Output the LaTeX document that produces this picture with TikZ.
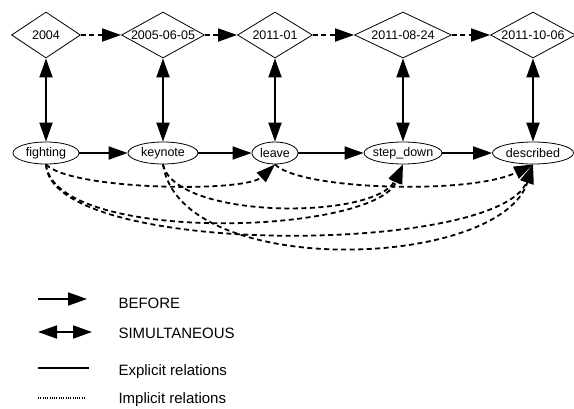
\documentclass[tikz,border=0pt]{standalone}
\usepackage{fontspec}
\setmainfont{Liberation Sans}
\usetikzlibrary{shapes.geometric, arrows.meta}

\begin{document}
\begin{tikzpicture}[
    x=1pt, y=-1pt,
    datebox/.style={diamond, draw=black, line width=0.8pt, minimum height=46pt, inner sep=0pt, font=\fontsize{12.5}{14}\selectfont},
    eventbox/.style={ellipse, draw=black, line width=0.8pt, minimum height=22pt, inner sep=0pt, font=\fontsize{12.5}{14}\selectfont},
    before/.style={-{Triangle[length=19pt, width=13pt]}, line width=1.8pt},
    simul/.style={{Triangle[length=19pt, width=13pt]}-{Triangle[length=19pt, width=13pt]}, line width=1.8pt},
    implicit/.style={dash pattern=on 5pt off 3.5pt},
    legend/.style={font=\fontsize{15}{18}\selectfont, anchor=base west}
]
\useasboundingbox (0,0) rectangle (574,408);

% Time expressions
\node[datebox, minimum width=69pt] (y2004) at (46, 35) {\makebox[0pt]{2004}};
\node[datebox, minimum width=83pt] (y2005) at (163, 35) {\makebox[0pt]{2005-06-05}};
\node[datebox, minimum width=75pt] (y2011a) at (275, 35) {\makebox[0pt]{2011-01}};
\node[datebox, minimum width=97pt] (y2011b) at (403, 35) {\makebox[0pt]{2011-08-24}};
\node[datebox, minimum width=85pt] (y2011c) at (533, 35) {\makebox[0pt]{2011-10-06}};

\draw[before, implicit] (y2004) -- (y2005);
\draw[before, implicit] (y2005) -- (y2011a);
\draw[before, implicit] (y2011a) -- (y2011b);
\draw[before, implicit] (y2011b) -- (y2011c);

% Events
\node[eventbox, minimum width=66pt] (fighting) at (46, 153) {\makebox[0pt]{fighting}};
\node[eventbox, minimum width=70pt] (keynote) at (163, 153) {\makebox[0pt]{keynote}};
\node[eventbox, minimum width=46pt] (leave) at (275, 153) {\makebox[0pt]{leave}};
\node[eventbox, minimum width=78pt] (stepdown) at (403, 153) {\makebox[0pt]{step\_down}};
\node[eventbox, minimum width=81pt] (described) at (533, 153) {\makebox[0pt]{described}};

\draw[simul] (y2004) -- (fighting);
\draw[simul] (y2005) -- (keynote);
\draw[simul] (y2011a) -- (leave);
\draw[simul] (y2011b) -- (stepdown);
\draw[simul] (y2011c) -- (described);

\draw[before] (fighting) -- (keynote);
\draw[before] (keynote) -- (leave);
\draw[before] (leave) -- (stepdown);
\draw[before] (stepdown) -- (described);

% Implicit relations
\draw[before, implicit] (fighting.south) .. controls (70,190) and (245,193) .. (leave.south);
\draw[before, implicit] (leave.south) .. controls (300,190) and (470,195) .. (described.south);
\draw[before, implicit] (keynote.south) .. controls (175,220) and (375,220) .. (stepdown.south);
\draw[before, implicit] (fighting.south) .. controls (55,245) and (375,235) .. (stepdown.south);
\draw[before, implicit] (fighting.south) .. controls (50,258) and (500,255) .. (described.south);
\draw[before, implicit] (keynote.south) .. controls (180,280) and (500,270) .. (described.south);

% Legend
\coordinate (lb1) at (38, 299);
\coordinate (lb2) at (87, 299);
\coordinate (ls1) at (38, 332);
\coordinate (ls2) at (92, 332);
\coordinate (le1) at (38, 368);
\coordinate (le2) at (89, 368);
\coordinate (li1) at (38, 398);
\coordinate (li2) at (86, 398);

\draw[before] (lb1) -- (lb2);
\draw[simul] (ls1) -- (ls2);
\draw[line width=1.8pt] (le1) -- (le2);
\draw[line width=1.3pt, dash pattern=on 1pt off 1.3pt] (li1) -- (li2);

\node[legend] (tbefore) at (115, 308) {BEFORE};
\node[legend] (tsimul) at (115, 338) {SIMULTANEOUS};
\node[legend] (texplicit) at (115, 375) {Explicit relations};
\node[legend] (timplicit) at (115, 403) {Implicit relations};

\end{tikzpicture}
\end{document}
